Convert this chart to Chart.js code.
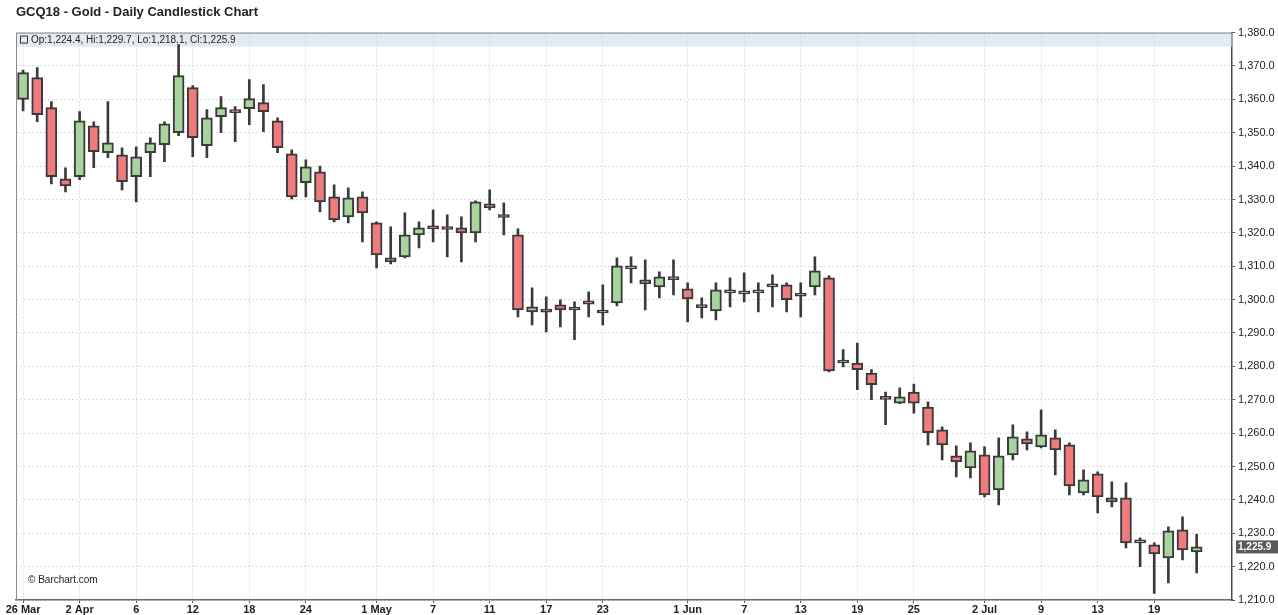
<!DOCTYPE html>
<html>
<head>
<meta charset="utf-8">
<title>GCQ18 - Gold - Daily Candlestick Chart</title>
<script src="https://cdn.jsdelivr.net/npm/chart.js@4.4.1/dist/chart.umd.min.js"></script>
<style>
    html, body { margin: 0; padding: 0; background: #fff; }
    #wrap { position: relative; width: 1278px; height: 615px; }
</style>
</head>
<body>
<div id="wrap"><canvas id="goldChart"></canvas></div>
<script>
/* ==========================================================================
   GCQ18 GOLD — DAILY CANDLESTICKS (floating bars: wick + body)
   ========================================================================== */

// --- trading days (2018) ---
const dates = [
    '03-26', '03-27', '03-28', '03-29',
    '04-02', '04-03', '04-04', '04-05', '04-06',
    '04-09', '04-10', '04-11', '04-12', '04-13',
    '04-16', '04-17', '04-18', '04-19', '04-20',
    '04-23', '04-24', '04-25', '04-26', '04-27',
    '04-30', '05-01', '05-02', '05-03', '05-04',
    '05-07', '05-08', '05-09', '05-10', '05-11',
    '05-14', '05-15', '05-16', '05-17', '05-18',
    '05-21', '05-22', '05-23', '05-24', '05-25',
    '05-29', '05-30', '05-31', '06-01',
    '06-04', '06-05', '06-06', '06-07', '06-08',
    '06-11', '06-12', '06-13', '06-14', '06-15',
    '06-18', '06-19', '06-20', '06-21', '06-22',
    '06-25', '06-26', '06-27', '06-28', '06-29',
    '07-02', '07-03', '07-05', '07-06',
    '07-09', '07-10', '07-11', '07-12', '07-13',
    '07-16', '07-17', '07-18', '07-19', '07-20',
    '07-23', '07-24'
];

const opens = [
    1360.0, 1366.5, 1357.5, 1336.2, 1336.8, 1352.1, 1344.0, 1343.4, 1336.8, 1344.0,
    1346.4, 1350.0, 1363.5, 1346.1, 1354.8, 1356.3, 1357.2, 1359.0, 1353.6, 1343.7,
    1335.0, 1338.3, 1330.8, 1324.8, 1330.8, 1323.0, 1312.5, 1312.8, 1319.4, 1322.1,
    1321.2, 1321.5, 1320.0, 1328.7, 1325.0, 1319.4, 1296.3, 1296.4, 1298.4, 1296.9,
    1299.6, 1296.0, 1299.0, 1309.2, 1305.9, 1303.8, 1306.2, 1303.2, 1297.8, 1296.6,
    1302.0, 1301.7, 1302.0, 1303.8, 1304.4, 1301.0, 1303.8, 1306.5, 1281.0, 1281.0,
    1278.0, 1270.3, 1269.0, 1272.3, 1267.8, 1261.0, 1253.2, 1249.6, 1253.5, 1243.0,
    1253.5, 1258.3, 1255.9, 1258.6, 1256.5, 1242.1, 1247.8, 1240.6, 1240.6, 1227.1,
    1226.5, 1222.6, 1231.0, 1224.4
];
const highs = [
    1368.8, 1369.5, 1359.3, 1339.5, 1356.3, 1353.3, 1359.3, 1345.5, 1345.8, 1348.5,
    1353.3, 1376.4, 1364.1, 1356.9, 1360.8, 1357.8, 1365.9, 1364.4, 1354.5, 1344.9,
    1341.9, 1340.0, 1334.4, 1333.5, 1332.3, 1323.3, 1321.8, 1326.0, 1323.3, 1326.9,
    1325.4, 1324.8, 1329.6, 1332.9, 1329.0, 1321.2, 1303.5, 1300.8, 1299.9, 1299.3,
    1302.3, 1304.4, 1312.5, 1312.8, 1311.9, 1308.3, 1311.9, 1305.0, 1300.5, 1305.0,
    1306.5, 1308.0, 1305.0, 1307.4, 1305.0, 1305.0, 1312.8, 1307.1, 1285.0, 1287.0,
    1279.0, 1272.3, 1273.6, 1274.7, 1269.4, 1261.9, 1256.2, 1257.1, 1255.9, 1258.6,
    1262.5, 1260.4, 1267.0, 1261.0, 1257.1, 1249.0, 1248.4, 1245.4, 1245.1, 1228.6,
    1227.1, 1231.9, 1234.9, 1229.7
];
const lows = [
    1356.5, 1353.3, 1334.7, 1332.3, 1335.9, 1339.5, 1342.5, 1332.9, 1329.3, 1336.8,
    1341.3, 1349.1, 1342.8, 1342.5, 1350.0, 1347.3, 1352.4, 1350.3, 1344.0, 1330.2,
    1330.8, 1326.3, 1323.3, 1323.0, 1317.3, 1309.5, 1310.7, 1312.5, 1315.5, 1317.3,
    1312.8, 1311.3, 1317.3, 1326.9, 1319.4, 1294.8, 1292.4, 1290.3, 1291.8, 1288.0,
    1294.8, 1292.4, 1298.1, 1305.0, 1296.9, 1300.5, 1301.4, 1293.3, 1294.5, 1293.9,
    1297.8, 1299.3, 1296.3, 1297.8, 1296.3, 1294.8, 1301.4, 1278.3, 1279.8, 1273.0,
    1270.0, 1262.5, 1268.8, 1266.0, 1256.5, 1252.0, 1246.9, 1246.6, 1240.9, 1238.5,
    1252.0, 1255.0, 1255.6, 1247.5, 1241.5, 1241.5, 1236.1, 1237.9, 1225.6, 1220.0,
    1212.0, 1215.1, 1222.0, 1218.1
];
const closes = [
    1368.0, 1355.4, 1336.8, 1334.1, 1353.6, 1344.3, 1347.0, 1335.3, 1342.8, 1347.0,
    1352.7, 1367.1, 1348.5, 1354.5, 1357.5, 1356.0, 1360.2, 1356.3, 1345.5, 1330.8,
    1339.8, 1329.3, 1323.9, 1330.5, 1326.0, 1313.4, 1311.3, 1319.4, 1321.5, 1321.2,
    1321.0, 1320.0, 1329.3, 1327.5, 1324.6, 1296.9, 1297.8, 1296.2, 1296.9, 1297.1,
    1298.6, 1296.2, 1310.1, 1309.5, 1304.7, 1306.8, 1306.0, 1300.2, 1297.6, 1302.9,
    1302.2, 1302.6, 1302.9, 1303.9, 1300.0, 1301.2, 1308.6, 1278.6, 1281.1, 1279.0,
    1274.5, 1270.1, 1270.9, 1269.0, 1260.1, 1256.5, 1251.4, 1254.7, 1241.5, 1253.2,
    1258.9, 1256.8, 1259.5, 1255.0, 1244.2, 1246.0, 1240.9, 1239.4, 1227.1, 1227.3,
    1223.8, 1230.7, 1225.0, 1225.9
];

// --- x-axis: dates that carry a label ---
const labelDates = [
    '03-26', '04-02', '04-06', '04-12', '04-18', '04-24', '05-01', '05-07', '05-11', '05-17',
    '05-23', '06-01', '06-07', '06-13', '06-19', '06-25', '07-02', '07-09', '07-13', '07-19'
];
const monthNames = ['Jan', 'Feb', 'Mar', 'Apr', 'May', 'Jun', 'Jul', 'Aug', 'Sep', 'Oct', 'Nov', 'Dec'];

// --- y-axis range ---
const priceMin = 1210;
const priceMax = 1380;
const priceStep = 10;

// two empty sessions of room after the last candle
const emptySlots = 2;

const UP_FILL = '#a6d69e';
const DOWN_FILL = '#ef7b7f';
const INK = '#3a3a3a';
const FONT = "'Liberation Sans', Arial, sans-serif";

const fmt = v => v.toLocaleString('en-US', { minimumFractionDigits: 1, maximumFractionDigits: 1 });

// Build "26 Mar", "2 Apr", "6", ... (month name only when it changes)
const tickText = {};
let lastMonth = null;
labelDates.forEach(function (d) {
    const [m, day] = d.split('-').map(Number);
    tickText[d] = (m !== lastMonth) ? day + ' ' + monthNames[m - 1] : String(day);
    lastMonth = m;
});

const categories = dates.concat(new Array(emptySlots).fill(''));

// --- header band, watermark and last-price tag ---
const chartDecor = {
    id: 'chartDecor',
    beforeDatasetsDraw(chart) {
        const { ctx, chartArea: a } = chart;
        ctx.save();
        ctx.fillStyle = 'rgba(206, 220, 234, 0.6)';
        ctx.fillRect(a.left, a.top, a.right - a.left, 14);
        ctx.strokeStyle = '#8a8a8a';
        ctx.lineWidth = 1;
        ctx.beginPath();
        ctx.moveTo(a.left + 0.5, a.bottom);
        ctx.lineTo(a.left + 0.5, a.top + 0.5);
        ctx.lineTo(a.right, a.top + 0.5);
        ctx.stroke();
        ctx.restore();
    },
    afterDatasetsDraw(chart) {
        const { ctx, chartArea: a, scales } = chart;
        const n = closes.length - 1;
        ctx.save();
        ctx.fillStyle = '#222';
        ctx.font = '10px ' + FONT;
        ctx.textBaseline = 'middle';
        ctx.strokeStyle = '#333';
        ctx.strokeRect(a.left + 4.5, a.top + 3.5, 7, 7);
        ctx.fillText('Op:' + fmt(opens[n]) + ', Hi:' + fmt(highs[n]) + ', Lo:' + fmt(lows[n]) + ', Cl:' + fmt(closes[n]),
            a.left + 15, a.top + 7.5);

        ctx.font = '10px ' + FONT;
        ctx.fillText('\u00A9 Barchart.com', a.left + 12, a.bottom - 20);

        // last price tag on the right axis
        const y = scales.y.getPixelForValue(closes[n]);
        ctx.fillStyle = '#5a5a5a';
        ctx.fillRect(a.right + 4, y - 6.5, 42, 13);
        ctx.fillStyle = '#fff';
        ctx.font = 'bold 10px ' + FONT;
        ctx.fillText(fmt(closes[n]), a.right + 6, y + 0.5);
        ctx.restore();
    }
};

new Chart(document.getElementById('goldChart').getContext('2d'), {
    type: 'bar',
    data: {
        labels: categories,
        datasets: [
            {
                label: 'Body',
                data: dates.map((d, i) => [opens[i], closes[i]]),
                backgroundColor: dates.map((d, i) => closes[i] >= opens[i] ? UP_FILL : DOWN_FILL),
                borderColor: INK,
                borderWidth: 2,
                borderSkipped: false,
                barThickness: 11,
                minBarLength: 3,
                grouped: false,
                order: 0
            },
            {
                label: 'Range',
                data: dates.map((d, i) => [lows[i], highs[i]]),
                backgroundColor: INK,
                borderWidth: 0,
                barThickness: 2,
                grouped: false,
                order: 1
            }
        ]
    },
    options: {
        responsive: true,
        maintainAspectRatio: false,
        animation: false,
        layout: { padding: { left: 16, right: 0, top: 0, bottom: 0 } },
        plugins: {
            legend: { display: false },
            tooltip: { enabled: false },
            title: {
                display: true,
                text: 'GCQ18 - Gold - Daily Candlestick Chart',
                align: 'start',
                color: '#222',
                font: { family: FONT, size: 13, weight: 'bold' },
                padding: { top: 5, bottom: 12 }
            }
        },
        scales: {
            x: {
                type: 'category',
                offset: true,
                grid: {
                    offset: false,
                    color: ctx => tickText[categories[ctx.index]] ? '#dedede' : 'rgba(0,0,0,0)',
                    tickColor: ctx => tickText[categories[ctx.index]] ? '#555' : 'rgba(0,0,0,0)',
                    tickLength: 3
                },
                border: { color: '#6a6a6a', width: 1.5, dash: [2, 2] },
                ticks: {
                    autoSkip: false,
                    maxRotation: 0,
                    minRotation: 0,
                    padding: 0,
                    color: '#222',
                    font: { family: FONT, size: 11, weight: 'bold' },
                    callback: (value, index) => tickText[categories[index]] || ''
                },
                afterFit(scale) { scale.height = 15; }
            },
            y: {
                position: 'right',
                min: priceMin,
                max: priceMax,
                grid: { color: '#dcdcdc', tickColor: '#555', tickLength: 3 },
                border: { color: '#4a4a4a', width: 1.5, dash: [2, 2] },
                ticks: {
                    stepSize: priceStep,
                    padding: 3,
                    color: '#222',
                    font: { family: FONT, size: 11 },
                    callback: v => fmt(v)
                },
                afterFit(scale) { scale.width = 46; }
            }
        }
    },
    plugins: [chartDecor]
});
</script>
</body>
</html>
